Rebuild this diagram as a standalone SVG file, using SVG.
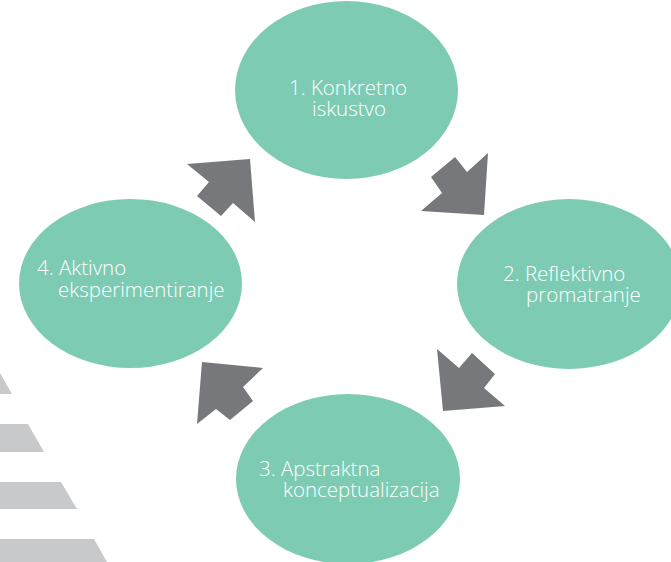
<svg xmlns="http://www.w3.org/2000/svg" width="671" height="562" viewBox="0 0 671 562">
<style>
.node{fill:#7ecbb4}
.arrow{fill:#77787b}
.stripe{fill:#c8c9cb}
.label{font-family:"Open Sans","Liberation Sans",sans-serif;font-size:20.5px;font-weight:300;fill:#ffffff}
</style>
<rect width="671" height="562" fill="#ffffff"/>
<g id="stripes">
<polygon class="stripe" points="0,372 -4,366 -4,366 12,394 0,394"/>
<polygon class="stripe" points="0,424 28,424 44,452 0,452"/>
<polygon class="stripe" points="0,482 61,482 77,509 0,509"/>
<polygon class="stripe" points="0,539 94,539 107,562 0,562"/>
</g>
<g id="node1">
<ellipse class="node" cx="346.5" cy="90" rx="111.5" ry="89"/>
<text class="label" x="289" y="95">1. Konkretno</text>
<text class="label" x="312" y="116">iskustvo</text>
</g>
<g id="node2">
<ellipse class="node" cx="569" cy="284" rx="112" ry="85"/>
<text class="label" x="503" y="281">2. Reflektivno</text>
<text class="label" x="526" y="302">promatranje</text>
</g>
<g id="node3">
<ellipse class="node" cx="348" cy="479" rx="112" ry="85"/>
<text class="label" x="259" y="476">3. Apstraktna</text>
<text class="label" x="283" y="497">konceptualizacija</text>
</g>
<g id="node4">
<ellipse class="node" cx="130.5" cy="283.5" rx="111.5" ry="84.5"/>
<text class="label" x="37" y="275">4. Aktivno</text>
<text class="label" x="58" y="297">eksperimentiranje</text>
</g>
<g id="connectors">
<polygon class="arrow" points="250,159 187,164 209,182 197,196 221,216 233,203 255,222"/>
<polygon class="arrow" points="484,215 421,211 442,193 431,177 455,157 467,172 488,153"/>
<polygon class="arrow" points="443,411 437,349 459,368 472,353 495,374 484,388 505,406"/>
<polygon class="arrow" points="202,362 263,368 243,387 253,401 230,420 216,409 197,424"/>
</g>
</svg>
